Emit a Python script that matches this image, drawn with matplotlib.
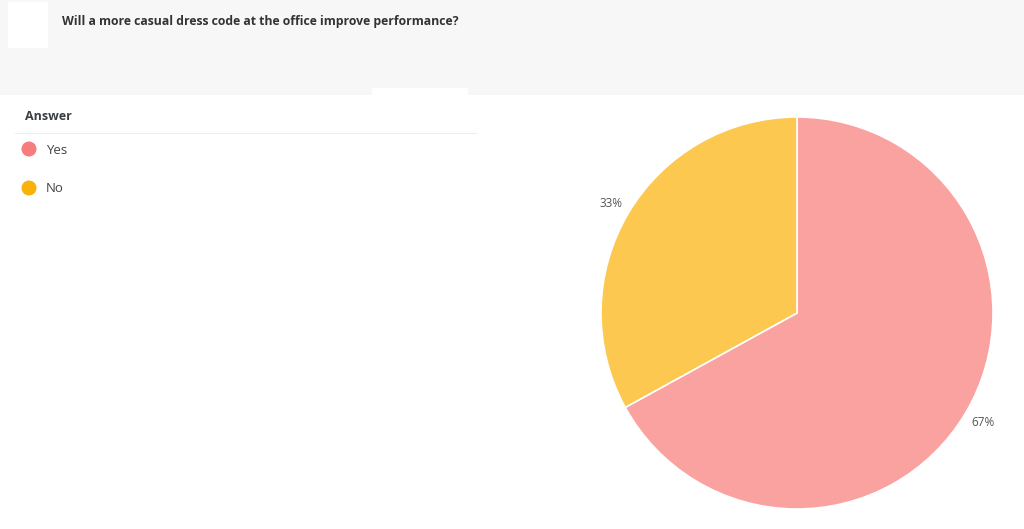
import matplotlib
matplotlib.use('Agg')
import matplotlib.pyplot as plt
from matplotlib.patches import Rectangle, Circle

plt.rcParams['font.family'] = ['Open Sans', 'DejaVu Sans']

# data
title = 'Will a more casual dress code at the office improve performance?'
answers = ['Yes', 'No']
shares = [67, 33]
pie_colors = ['#FAA2A0', '#FDC84F']
dot_colors = ['#F77C7D', '#F9B10B']

W, H = 1024, 529
fig = plt.figure(figsize=(W / 100, H / 100), dpi=100)
fig.patch.set_facecolor('white')

# background layer in pixel coordinates
bg = fig.add_axes([0, 0, 1, 1])
bg.set_xlim(0, W)
bg.set_ylim(H, 0)
bg.axis('off')

# header band
bg.add_patch(Rectangle((0, 0), W, 95, facecolor='#F7F7F7', edgecolor='none'))
bg.add_patch(Rectangle((8, 2), 40, 46, facecolor='white', edgecolor='none'))
bg.add_patch(Rectangle((372, 88), 96, 44, facecolor='white', edgecolor='none'))
bg.text(62, 21, title, fontsize=8.8, fontweight='bold', color='#333333',
        va='center', ha='left')

# legend
bg.text(25, 117, 'Answer', fontsize=9, fontweight='bold', color='#3a3f44',
        va='center', ha='left')
bg.plot([15, 476], [132.5, 132.5], color='#EEEEEE', lw=0.8)
for i, (lab, c) in enumerate(zip(answers, dot_colors)):
    y = 149 + i * 39
    bg.add_patch(Circle((29, y), 7.5, facecolor=c, edgecolor='none'))
    bg.text(46, y + 1, lab, fontsize=9.5, color='#444444', va='center', ha='left')

# pie
cx, cy, r = 797, 313, 196
ax = fig.add_axes([(cx - r) / W, (H - cy - r) / H, 2 * r / W, 2 * r / H])
wedges, texts, autotexts = ax.pie(
    shares, colors=pie_colors, startangle=90, counterclock=False,
    autopct='%d%%', pctdistance=1.1,
    wedgeprops=dict(edgecolor='white', linewidth=1.2),
    textprops=dict(fontsize=8.5, color='#555555'))
ax.set_xlim(-1, 1)
ax.set_ylim(-1, 1)
ax.set_aspect('equal')
ax.axis('off')

fig.savefig('out.png', dpi=100)
